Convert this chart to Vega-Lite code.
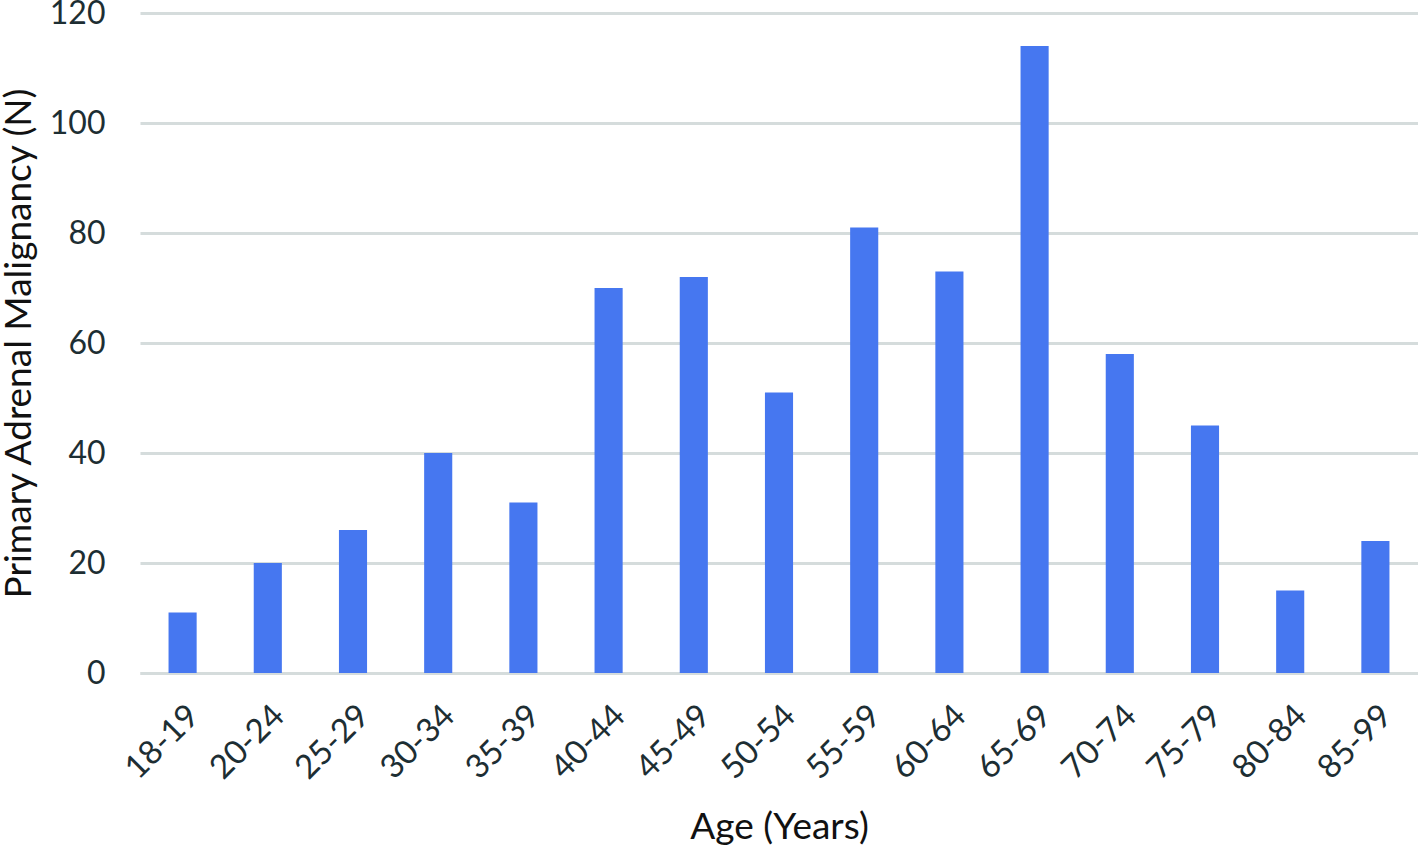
{
  "$schema": "https://vega.github.io/schema/vega-lite/v6.json",
  "width": 1278,
  "height": 660,
  "autosize": {"type": "none"},
  "padding": {"left": 140, "top": 13, "right": 0, "bottom": 174},
  "background": "white",
  "data": {"values": [
    {"age": "18-19", "n": 11},
    {"age": "20-24", "n": 20},
    {"age": "25-29", "n": 26},
    {"age": "30-34", "n": 40},
    {"age": "35-39", "n": 31},
    {"age": "40-44", "n": 70},
    {"age": "45-49", "n": 72},
    {"age": "50-54", "n": 51},
    {"age": "55-59", "n": 81},
    {"age": "60-64", "n": 73},
    {"age": "65-69", "n": 114},
    {"age": "70-74", "n": 58},
    {"age": "75-79", "n": 45},
    {"age": "80-84", "n": 15},
    {"age": "85-99", "n": 24}
  ]},
  "config": {
    "view": {"stroke": null},
    "font": "Lato",
    "axis": {"labelColor": "#1d2e33", "titleColor": "#111111", "labelFont": "Lato", "titleFont": "Lato", "titleFontWeight": "normal"}
  },
  "mark": {"type": "bar", "color": "#4677f0"},
  "encoding": {
    "x": {
      "field": "age", "type": "nominal", "sort": null,
      "title": "Age (Years)",
      "scale": {"paddingInner": 0.67, "paddingOuter": 0.335},
      "axis": {
        "labelAngle": -45, "labelFontSize": 33, "labelPadding": 26,
        "ticks": false, "domainColor": "#d5dcdc", "domainWidth": 3,
        "titleFontSize": 37, "titlePadding": 24
      }
    },
    "y": {
      "field": "n", "type": "quantitative",
      "title": "Primary Adrenal Malignancy (N)",
      "scale": {"domain": [0, 120]},
      "axis": {
        "values": [0, 20, 40, 60, 80, 100, 120],
        "labelFontSize": 32, "labelPadding": 35, "ticks": false, "domain": false,
        "gridColor": "#d5dcdc", "gridWidth": 3,
        "titleFontSize": 37, "titlePadding": 11
      }
    }
  }
}
